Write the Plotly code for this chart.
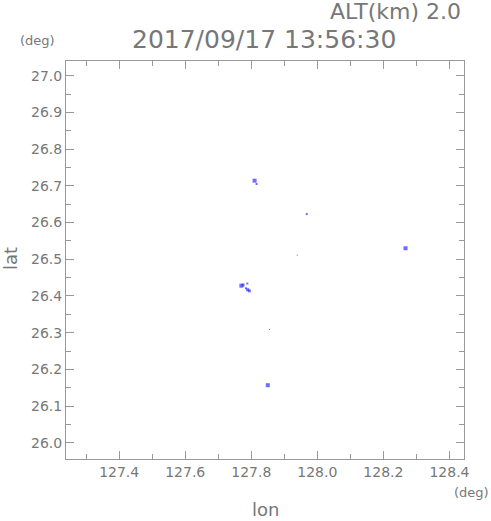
import plotly.graph_objects as go

# echo cells (lon, lat, marker size in px)
lons = [127.810, 127.816, 127.968, 127.770, 127.775, 127.788, 127.784, 127.789, 127.794, 127.855, 128.267, 127.850, 127.939]
lats = [26.714, 26.705, 26.623, 26.428, 26.430, 26.434, 26.421, 26.417, 26.414, 26.309, 26.530, 26.157, 26.511]
sizes = [4, 2, 2, 4, 3, 2, 2, 3, 3, 1, 4, 4, 1]

xtickvals = [127.4, 127.6, 127.8, 128.0, 128.2, 128.4]
ytickvals = [26.0, 26.1, 26.2, 26.3, 26.4, 26.5, 26.6, 26.7, 26.8, 26.9, 27.0]

grey = "#777777"
font = "DejaVu Sans"

L, R, T, B = 66, 463.7, 61, 458.7
W, H = 491, 521

fig = go.Figure()
fig.add_trace(go.Scatter(
    x=lons, y=lats, mode="markers",
    marker=dict(symbol="square", size=sizes, color="#2f2fff", line=dict(width=0)),
    hoverinfo="skip", showlegend=False))

axis_common = dict(
    showgrid=False, zeroline=False, showline=True, linecolor="#999999", linewidth=1,
    mirror="ticks", ticks="inside", ticklen=8, tickcolor="#999999", automargin=False,
    tickfont=dict(family=font, size=14, color=grey),
)
fig.update_xaxes(range=[127.239, 128.444], tickvals=xtickvals,
                 ticktext=[f"{v:.1f}" for v in xtickvals],
                 minor=dict(ticks="inside", ticklen=5, dtick=0.1, tick0=127.3, tickcolor="#999999"),
                 **axis_common)
fig.update_yaxes(range=[25.956, 27.04], tickvals=ytickvals,
                 ticktext=[f"{v:.1f}" for v in ytickvals],
                 minor=dict(ticks="inside", ticklen=5, dtick=0.05, tick0=26.05, tickcolor="#999999"),
                 **axis_common)

def px2paper(px, py):
    return (px - L) / (R - L), (H - py - (H - B)) / (B - T)

ann = [
    ("ALT(km) 2.0", 463, 12, 22, "right", 0),
    ("2017/09/17 13:56:30", 264, 40, 25, "center", 0),
    ("(deg)", 38, 41, 13, "center", 0),
    ("(deg)", 471, 492, 13, "center", 0),
    ("lon", 265, 509, 18, "center", 0),
    ("lat", 10, 258, 18, "center", -90),
]
annotations = []
for text, px, py, size, xa, ang in ann:
    x, y = px2paper(px, py)
    annotations.append(dict(text=text, xref="paper", yref="paper", x=x, y=y,
                            xanchor=xa, yanchor="middle", showarrow=False, textangle=ang,
                            font=dict(family=font, size=size, color=grey)))

fig.update_layout(
    width=W, height=H,
    margin=dict(l=L, r=W - R, t=T, b=H - B, autoexpand=False),
    paper_bgcolor="white", plot_bgcolor="white",
    annotations=annotations,
)
fig.write_html("out.html", config={"displayModeBar": False},
               post_script="document.body.style.margin='0';")
